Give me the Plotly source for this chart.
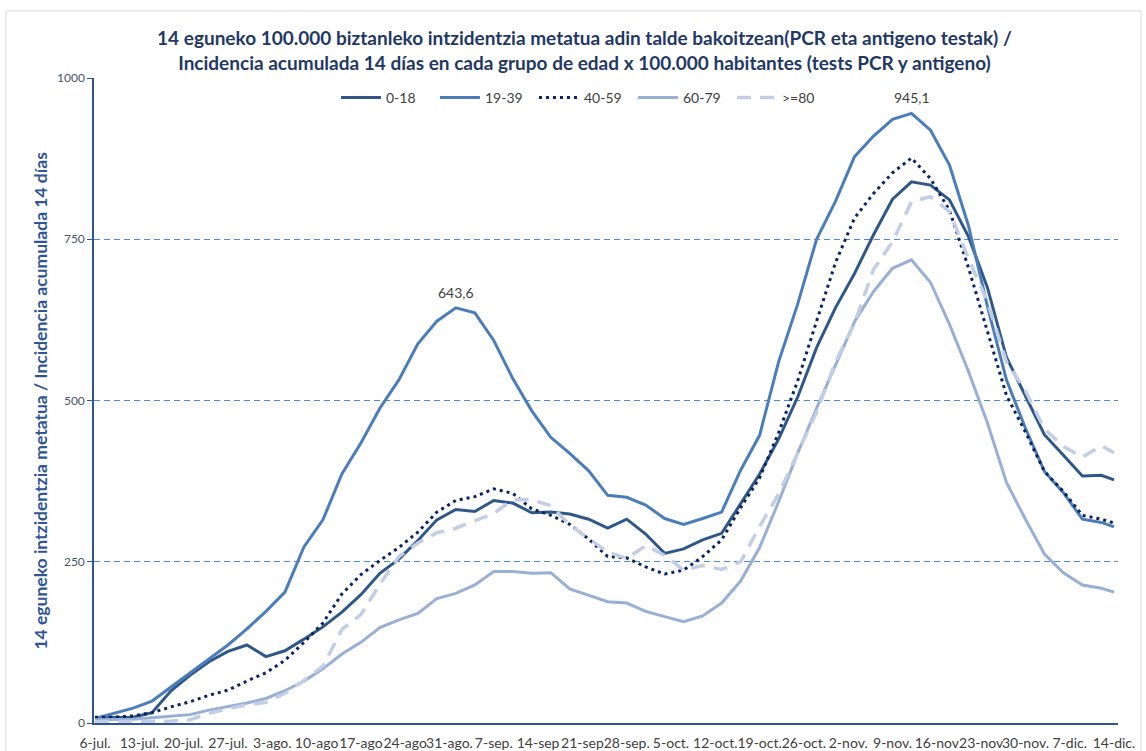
import plotly.graph_objects as go
from datetime import date, timedelta

# ---------------- data ----------------
START = date(2020, 7, 6)
DAY_OFFSETS = list(range(0, 160, 3)) + [161]
DATES = [(START + timedelta(days=d)).isoformat() for d in DAY_OFFSETS]

SERIES_NAMES = ["0-18", "19-39", "40-59", "60-79", ">=80"]

age_0_18 = [8, 8, 9, 16, 50, 74, 95, 111, 121, 103,
            112, 130, 149, 172, 199, 232, 254, 283, 315, 331,
            328, 345, 341, 326, 327, 324, 316, 302, 316, 293,
            263, 270, 284, 294, 341, 386, 440, 505, 582, 644,
            697, 757, 812, 839, 834, 811, 754, 675, 567, 508,
            447, 415, 383, 384, 377]

age_19_39 = [7, 15, 23, 34, 56, 78, 100, 121, 146, 173,
             203, 273, 315, 386, 434, 488, 532, 588, 623, 643.6,
             636, 593, 534, 484, 443, 418, 391, 353, 350, 338,
             317, 308, 317, 327, 392, 446, 560, 649, 750, 809,
             878, 910, 936, 945.1, 919, 865, 771, 646, 532, 457,
             390, 357, 316, 311, 304]

age_40_59 = [9, 9, 11, 16, 25, 33, 43, 51, 65, 78,
             97, 125, 155, 200, 230, 252, 272, 296, 327, 345,
             351, 363, 356, 332, 322, 308, 285, 258, 256, 242,
             231, 237, 258, 284, 334, 380, 450, 530, 623, 714,
             783, 821, 853, 876, 844, 795, 706, 608, 508, 451,
             390, 359, 322, 316, 310]

age_60_79 = [5, 5, 6, 8, 10, 13, 20, 25, 31, 38,
             50, 65, 84, 107, 125, 148, 160, 170, 193, 201,
             214, 235, 235, 232, 233, 208, 198, 188, 186, 173,
             165, 157, 166, 186, 220, 272, 343, 418, 488, 556,
             622, 669, 705, 718, 683, 618, 545, 465, 373, 316,
             262, 233, 214, 209, 203]

age_80_plus = [2, 2, 2, 3, 3, 5, 15, 22, 28, 32,
               46, 66, 88, 145, 168, 215, 258, 279, 295, 302,
               314, 325, 346, 346, 337, 307, 286, 265, 255, 275,
               260, 237, 244, 238, 250, 305, 355, 418, 482, 560,
               620, 703, 746, 808, 816, 793, 720, 653, 560, 515,
               456, 429, 412, 430, 419]

TICK_DATES = [(START + timedelta(days=7 * i)).isoformat() for i in range(24)]
TICK_LABELS = ["6-jul.", "13-jul.", "20-jul.", "27-jul.", "3-ago.", "10-ago",
               "17-ago", "24-ago", "31-ago.", "7-sep.", "14-sep", "21-sep",
               "28-sep.", "5-oct.", "12-oct.", "19-oct.", "26-oct.", "2-nov.",
               "9-nov.", "16-nov", "23-nov", "30-nov.", "7-dic.", "14-dic."]

Y_TICKS = [0, 250, 500, 750, 1000]

TITLE_L1 = "14 eguneko 100.000 biztanleko intzidentzia metatua adin talde bakoitzean(PCR eta antigeno testak) /"
TITLE_L2 = "Incidencia acumulada 14 días en cada grupo de edad x 100.000 habitantes (tests PCR y antigeno)"
Y_TITLE = "14 eguneko intzidentzia metatua / Incidencia acumulada 14 días"

# ---------------- styles ----------------
FONT = "Lato, Carlito, Calibri, sans-serif"
STYLES = [
    dict(color="#2F5888", width=3, dash="solid"),
    dict(color="#4A7DBA", width=3, dash="solid"),
    dict(color="#0A2463", width=3, dash="3px,4px"),
    dict(color="#98AFD6", width=3, dash="solid"),
    dict(color="#C3CEE4", width=3.5, dash="14px,9px"),
]

fig = go.Figure()
for name, vals, st in zip(SERIES_NAMES,
                          [age_0_18, age_19_39, age_40_59, age_60_79, age_80_plus],
                          STYLES):
    fig.add_trace(go.Scatter(x=DATES, y=vals, mode="lines", name=name,
                             line=st, hoverinfo="x+y+name"))

# peak labels
first_half = age_19_39[:30]
i1 = first_half.index(max(first_half))
i2 = age_19_39.index(max(age_19_39))
for i in (i1, i2):
    fig.add_annotation(x=DATES[i], y=age_19_39[i],
                       text=f"{age_19_39[i]:.1f}".replace(".", ","),
                       showarrow=False, yanchor="bottom", yshift=5,
                       font=dict(family=FONT, size=14, color="#404040"))

# y-axis title as annotation
fig.add_annotation(xref="paper", yref="paper", x=-0.0527, y=0.5, text=f"<b>{Y_TITLE}</b>",
                   textangle=-90, showarrow=False, xanchor="center", yanchor="middle",
                   font=dict(family=FONT, size=17.5, color="#2F5597"))

# chart border
fig.add_shape(type="rect", xref="paper", yref="paper",
              x0=-0.086, x1=1.0225, y0=-0.06, y1=1.104,
              line=dict(color="#D6DCE5", width=1), fillcolor="rgba(0,0,0,0)", layer="below")

fig.update_layout(
    width=1146, height=751,
    margin=dict(l=94, r=28, t=78, b=28, autoexpand=False),
    paper_bgcolor="white", plot_bgcolor="white",
    title=dict(text=f"<b>{TITLE_L1}</b><br><b>{TITLE_L2}</b>",
               x=0.51, xref="container", xanchor="center",
               y=0.94, yref="container", yanchor="middle",
               font=dict(family=FONT, size=19, color="#1F3864")),
    legend=dict(orientation="h", x=0.478, xanchor="center", y=0.969, yanchor="middle",
                font=dict(family=FONT, size=14, color="#404040"),
                bgcolor="rgba(0,0,0,0)", entrywidth=44, entrywidthmode="pixels",
                itemwidth=40),
    showlegend=True,
)

fig.update_xaxes(
    type="date", automargin=False,
    range=["2020-07-05 20:00:00", "2020-12-14 15:00:00"],
    tickmode="array", tickvals=TICK_DATES, ticktext=TICK_LABELS,
    tickangle=0, ticks="", ticklabelstandoff=6,
    tickfont=dict(family=FONT, size=14, color="#404040"),
    showgrid=False, zeroline=False,
    showline=True, linecolor="#2F5597", linewidth=1.5,
)

fig.update_yaxes(
    automargin=False,
    range=[0, 1000], tickmode="array", tickvals=Y_TICKS,
    ticktext=[str(v) for v in Y_TICKS],
    tickfont=dict(family=FONT, size=12, color="#44546A"),
    ticks="outside", ticklen=5, tickcolor="#2F5597",
    showgrid=True, gridcolor="#4A8BE0", gridwidth=1.2, griddash="6px,4px",
    zeroline=False,
    showline=True, linecolor="#2F5597", linewidth=1.5,
)

fig.write_html("out.html", config={"displayModeBar": False})

# remove default page margin so the figure sits at the window origin
with open("out.html", "r", encoding="utf-8") as f:
    html = f.read()
html = html.replace("<head>", "<head><style>html,body{margin:0;padding:0;overflow:hidden;}</style>", 1)
with open("out.html", "w", encoding="utf-8") as f:
    f.write(html)
